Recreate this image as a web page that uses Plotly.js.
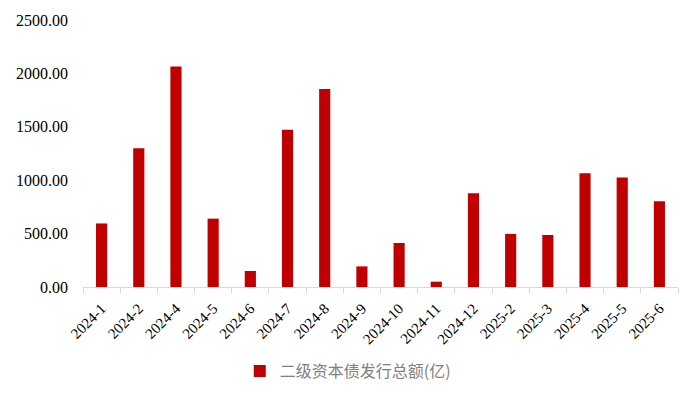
<!DOCTYPE html>
<html>
<head>
<meta charset="utf-8">
<script src="https://cdn.plot.ly/plotly-3.0.1.min.js"></script>
<style>
  html, body { margin: 0; padding: 0; background: #fff; }
  #chart { width: 700px; height: 400px; }
</style>
</head>
<body>
<div id="chart"></div>
<script>
// months with issuance (2025-1 is absent in the source)
var months = ['2024-1', '2024-2', '2024-4', '2024-5', '2024-6', '2024-7', '2024-8', '2024-9',
  '2024-10', '2024-11', '2024-12', '2025-2', '2025-3', '2025-4', '2025-5', '2025-6'];

// 二级资本债发行总额, 亿元
var amounts = [595, 1300, 2065, 640, 150, 1472, 1853, 193,
  412, 50, 877, 497, 487, 1065, 1025, 802];

var seriesName = '二级资本债发行总额(亿)';
var yTicks = [0, 500, 1000, 1500, 2000, 2500];

var serif = 'Times New Roman, Liberation Serif, DejaVu Serif, serif';

var trace = {
  x: months,
  y: amounts,
  name: seriesName,
  type: 'bar',
  marker: { color: '#C00000' },
  showlegend: true
};

var layout = {
  width: 700,
  height: 400,
  margin: { l: 83, r: 22, t: 20, b: 113 },
  paper_bgcolor: '#fff',
  plot_bgcolor: '#fff',
  bargap: 0.7,
  font: { family: serif, size: 14, color: '#000' },
  xaxis: {
    type: 'category',
    tickangle: -45,
    automargin: false,
    showline: true,
    linecolor: '#d9d9d9',
    linewidth: 1,
    ticks: 'outside',
    tickson: 'boundaries',
    ticklen: 5,
    tickcolor: '#d9d9d9',
    ticklabelstandoff: 6,
    showgrid: false,
    zeroline: false,
    tickfont: { family: serif, size: 15, color: '#000' }
  },
  yaxis: {
    range: [0, 2500],
    automargin: false,
    tickvals: yTicks,
    ticktext: yTicks.map(function (v) { return v.toFixed(2); }),
    showgrid: false,
    zeroline: false,
    showline: false,
    ticks: '',
    ticklabelstandoff: 14,
    tickfont: { family: serif, size: 16, color: '#000' }
  },
  legend: {
    orientation: 'h',
    x: 0.445,
    xanchor: 'center',
    yref: 'container',
    y: 0.115,
    yanchor: 'top',
    font: { family: 'Noto Sans CJK SC', size: 16, color: '#808080' }
  }
};

Plotly.newPlot('chart', [trace], layout, { displayModeBar: false, staticPlot: true });
</script>
</body>
</html>
